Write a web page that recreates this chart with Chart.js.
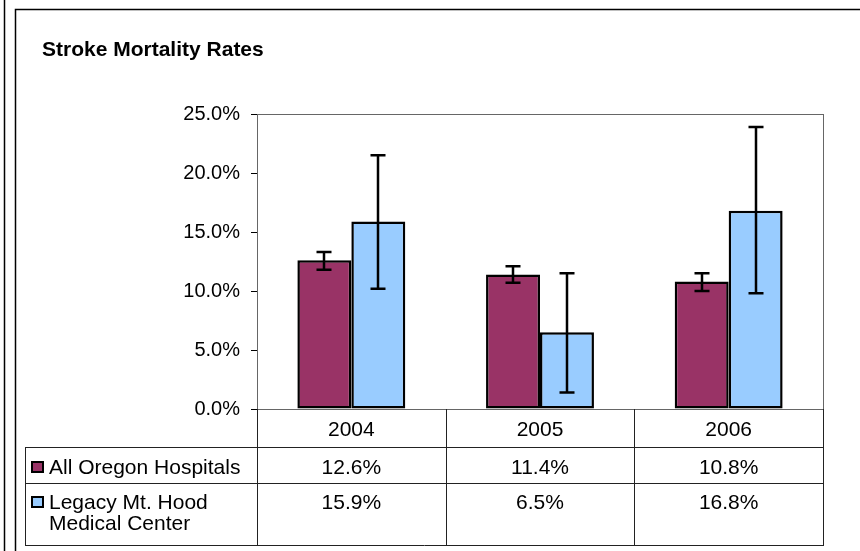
<!DOCTYPE html>
<html>
<head>
<meta charset="utf-8">
<script src="https://cdn.jsdelivr.net/npm/chart.js@4"></script>
<style>
  html, body { margin: 0; padding: 0; background: #fff; }
  #wrap { width: 860px; height: 551px; }
</style>
</head>
<body>
<div id="wrap"><canvas id="chart" width="860" height="551"></canvas></div>
<script>
var years = ['2004', '2005', '2006'];
var seriesNames = ['All Oregon Hospitals', 'Legacy Mt. Hood Medical Center'];
var allOregon = [12.6, 11.4, 10.8];
var legacyMtHood = [15.9, 6.5, 16.8];
// confidence intervals
var allOregonLow = [11.8, 10.7, 10.0];
var allOregonHigh = [13.3, 12.1, 11.5];
var legacyLow = [10.2, 1.4, 9.8];
var legacyHigh = [21.5, 11.5, 23.9];
var yTicks = [0, 5, 10, 15, 20, 25];

var FONT = '"Liberation Sans", Arial, sans-serif';
var colors = ['#993366', '#99ccff'];

function pct(v) {
	return v.toFixed(1) + '%';
}

function wrapText(ctx, text, maxW) {
	var words = text.split(' '), lines = [], line = '';
	for (var i = 0; i < words.length; i++) {
		var test = line ? line + ' ' + words[i] : words[i];
		if (ctx.measureText(test).width > maxW && line) {
			lines.push(line);
			line = words[i];
		} else {
			line = test;
		}
	}
	lines.push(line);
	return lines;
}

// background, outer frame and title
var framePlugin = {
	id: 'frame',
	beforeDraw: function(chart) {
		var ctx = chart.ctx;
		ctx.save();
		ctx.fillStyle = '#fff';
		ctx.fillRect(0, 0, chart.width, chart.height);
		ctx.strokeStyle = '#000';
		ctx.lineWidth = 1.5;
		ctx.beginPath();
		ctx.moveTo(4.5, 0);
		ctx.lineTo(4.5, chart.height);
		ctx.moveTo(15.5, chart.height);
		ctx.lineTo(15.5, 9.5);
		ctx.lineTo(chart.width, 9.5);
		ctx.stroke();
		ctx.fillStyle = '#000';
		ctx.font = 'bold 21px ' + FONT;
		ctx.textBaseline = 'alphabetic';
		ctx.fillText('Stroke Mortality Rates', 42, 56);
		ctx.restore();
	}
};

// error bars on each bar
var errorBarPlugin = {
	id: 'errorBars',
	afterDatasetsDraw: function(chart) {
		var ctx = chart.ctx, y = chart.scales.y;
		var lows = [allOregonLow, legacyLow], highs = [allOregonHigh, legacyHigh];
		ctx.save();
		ctx.strokeStyle = '#000';
		ctx.lineWidth = 2.5;
		for (var d = 0; d < chart.data.datasets.length; d++) {
			var meta = chart.getDatasetMeta(d);
			for (var i = 0; i < meta.data.length; i++) {
				var x = Math.round(meta.data[i].x);
				var yl = y.getPixelForValue(lows[d][i]);
				var yh = y.getPixelForValue(highs[d][i]);
				ctx.beginPath();
				ctx.moveTo(x, yh);
				ctx.lineTo(x, yl);
				ctx.moveTo(x - 7.5, yh);
				ctx.lineTo(x + 7.5, yh);
				ctx.moveTo(x - 7.5, yl);
				ctx.lineTo(x + 7.5, yl);
				ctx.stroke();
			}
		}
		ctx.restore();
	}
};

// plot box and data table below the axis
var tablePlugin = {
	id: 'dataTable',
	afterDraw: function(chart) {
		var ctx = chart.ctx, a = chart.chartArea, xs = chart.scales.x;
		var rowTop = [a.bottom, 447, 483], tableBottom = 545, tableLeft = 25;
		var bounds = [a.left];
		for (var i = 0; i < years.length - 1; i++) {
			bounds.push((xs.getPixelForValue(i) + xs.getPixelForValue(i + 1)) / 2);
		}
		bounds.push(a.right);

		ctx.save();
		// plot area box
		ctx.lineWidth = 1;
		ctx.strokeStyle = '#666';
		ctx.strokeRect(Math.round(a.left) + 0.5, Math.round(a.top) + 0.5, Math.round(a.right - a.left), Math.round(a.bottom - a.top));

		ctx.strokeStyle = '#222';
		ctx.beginPath();
		for (var b = 0; b < bounds.length; b++) {
			var bx = Math.round(bounds[b]) + 0.5;
			ctx.moveTo(bx, a.bottom);
			ctx.lineTo(bx, tableBottom);
		}
		ctx.moveTo(tableLeft + 0.5, rowTop[1]);
		ctx.lineTo(tableLeft + 0.5, tableBottom);
		for (var r = 1; r < rowTop.length; r++) {
			ctx.moveTo(tableLeft, rowTop[r] + 0.5);
			ctx.lineTo(a.right, rowTop[r] + 0.5);
		}
		ctx.moveTo(tableLeft, tableBottom + 0.5);
		ctx.lineTo(a.right + 1, tableBottom + 0.5);
		ctx.stroke();

		ctx.fillStyle = '#000';
		ctx.font = '21px ' + FONT;
		ctx.textAlign = 'center';
		ctx.textBaseline = 'alphabetic';
		for (var c = 0; c < years.length; c++) {
			ctx.fillText(years[c], xs.getPixelForValue(c), 436);
		}

		var series = [allOregon, legacyMtHood];
		var baselines = [474, 509];
		for (var s = 0; s < series.length; s++) {
			var base = baselines[s];
			ctx.fillStyle = colors[s];
			ctx.fillRect(32, base - 12, 11, 10);
			ctx.strokeStyle = '#000';
			ctx.lineWidth = 2;
			ctx.strokeRect(32, base - 12, 11, 10);
			ctx.fillStyle = '#000';
			ctx.textAlign = 'left';
			var lines = wrapText(ctx, seriesNames[s], a.left - 52);
			for (var l = 0; l < lines.length; l++) {
				ctx.fillText(lines[l], 49, base + l * 21);
			}
			ctx.textAlign = 'center';
			for (var v = 0; v < series[s].length; v++) {
				ctx.fillText(pct(series[s][v]), xs.getPixelForValue(v), base);
			}
		}
		ctx.restore();
	}
};

new Chart(document.getElementById('chart'), {
	type: 'bar',
	data: {
		labels: years,
		datasets: [{
			label: seriesNames[0],
			data: allOregon,
			backgroundColor: colors[0],
			borderColor: '#000',
			borderWidth: 2.5,
			borderSkipped: false
		}, {
			label: seriesNames[1],
			data: legacyMtHood,
			backgroundColor: colors[1],
			borderColor: '#000',
			borderWidth: 2.5,
			borderSkipped: false
		}]
	},
	options: {
		responsive: false,
		animation: false,
		devicePixelRatio: 1,
		categoryPercentage: 0.572,
		barPercentage: 1.0,
		layout: { padding: { left: 0, top: 114, right: 37, bottom: 0 } },
		plugins: {
			legend: { display: false },
			title: { display: false },
			tooltip: { enabled: false }
		},
		scales: {
			x: {
				grid: { display: false, drawTicks: false },
				ticks: { display: false },
				border: { display: false },
				afterFit: function(scale) { scale.height = 142; }
			},
			y: {
				min: 0,
				max: 25,
				afterBuildTicks: function(scale) {
					scale.ticks = yTicks.map(function(v) { return { value: v }; });
				},
				grid: { drawOnChartArea: false, drawTicks: true, tickLength: 6, color: '#000' },
				border: { display: true, color: '#000', width: 1 },
				ticks: {
					padding: 11,
					color: '#000',
					font: { family: FONT, size: 20 },
					callback: function(v) { return pct(v); }
				},
				afterFit: function(scale) { scale.width = 257; }
			}
		}
	},
	plugins: [framePlugin, errorBarPlugin, tablePlugin]
});
</script>
</body>
</html>
